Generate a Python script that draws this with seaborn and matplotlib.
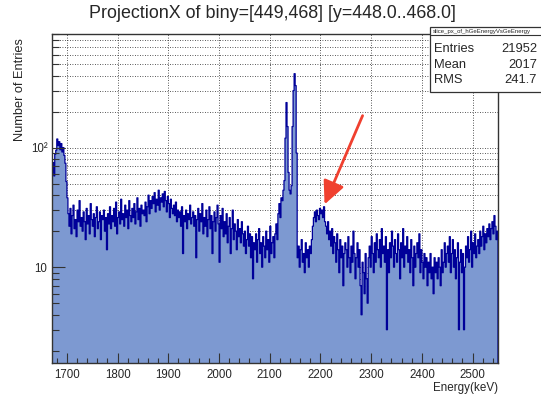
import numpy as np
import pandas as pd
import seaborn as sns
import matplotlib
matplotlib.use("Agg")
import matplotlib.pyplot as plt
from matplotlib.patches import Rectangle
from matplotlib.lines import Line2D
from matplotlib.ticker import MultipleLocator, LogLocator, FuncFormatter, NullFormatter

# ---- histogram content: Ge energy projection, 2 keV bins from 1670 keV ----
energy_start = 1670
energy_stop = 2550
bin_width = 2

entries = [
    62, 75, 58, 88, 95, 118, 104, 112, 96, 108,      # 1670
    92, 100, 86, 74, 52, 38, 28, 22, 31, 19,         # 1690
    27, 33, 21, 25, 18, 30, 24, 36, 22, 26,          # 1710
    20, 29, 24, 17, 31, 23, 27, 19, 34, 25,          # 1730
    22, 28, 18, 26, 32, 21, 24, 29, 17, 27,          # 1750
    25, 30, 20, 26, 14, 28, 23, 32, 21, 27,          # 1770
    24, 31, 22, 35, 19, 26, 29, 23, 37, 25,          # 1790
    28, 22, 33, 26, 30, 21, 36, 27, 24, 31,          # 1810
    26, 34, 23, 29, 38, 25, 31, 22, 33, 28,          # 1830
    30, 27, 35, 24, 32, 40, 28, 36, 31, 39,          # 1850
    34, 42, 29, 37, 33, 44, 30, 38, 35, 41,          # 1870
    32, 43, 36, 29, 39, 34, 26, 37, 31, 28,          # 1890
    33, 27, 35, 24, 30, 26, 29, 22, 32, 13,          # 1910
    27, 24, 30, 21, 28, 25, 33, 23, 26, 29,          # 1930
    22, 27, 12, 25, 31, 20, 28, 24, 34, 19,          # 1950
    26, 22, 30, 18, 25, 32, 21, 27, 13, 24,          # 1970
    29, 20, 26, 33, 23, 11, 27, 21, 31, 18,          # 1990
    24, 19, 28, 16, 22, 26, 13, 21, 30, 17,          # 2010
    23, 20, 14, 25, 18, 21, 16, 24, 19, 15,          # 2030
    20, 13, 17, 22, 15, 19, 12, 18, 8, 16,           # 2050
    14, 19, 11, 17, 21, 13, 16, 10, 18, 15,          # 2070
    12, 20, 14, 17, 11, 22, 13, 16, 18, 12,          # 2090
    19, 23, 17, 28, 34, 26, 38, 36, 44, 53,          # 2110
    120, 238, 150, 62, 44, 41, 48, 150, 300, 415,    # 2130
    330, 90, 12, 15, 10, 14, 17, 11, 13, 9,          # 2150
    16, 12, 14, 10, 15, 13, 17, 22, 26, 29,          # 2170
    24, 30, 27, 25, 31, 28, 30, 26, 32, 24,          # 2190
    22, 19, 24, 17, 20, 15, 21, 13, 18, 16,          # 2210
    11, 19, 14, 9, 17, 12, 15, 7, 13, 16,            # 2230
    14, 10, 18, 12, 9, 15, 11, 20, 13, 8,            # 2250
    12, 16, 10, 14, 7, 4, 11, 9, 6, 13,              # 2270
    8, 5, 12, 15, 10, 18, 13, 9, 16, 11,             # 2290
    19, 14, 12, 17, 10, 21, 13, 15, 11, 18,          # 2310
    3, 14, 9, 16, 12, 20, 15, 10, 17, 13,            # 2330
    11, 19, 14, 8, 16, 12, 21, 10, 15, 13,           # 2350
    18, 11, 14, 9, 17, 12, 7, 15, 10, 13,            # 2370
    16, 12, 19, 9, 14, 11, 8, 13, 10, 12,            # 2390
    7, 11, 9, 13, 8, 10, 6, 12, 9, 11,               # 2410
    8, 12, 10, 7, 14, 9, 11, 16, 10, 13,             # 2430
    15, 11, 18, 9, 13, 17, 10, 14, 8, 12,            # 2450
    16, 3, 11, 14, 9, 13, 3, 10, 15, 12,             # 2470
    18, 11, 14, 20, 10, 16, 13, 19, 12, 15,          # 2490
    17, 13, 20, 15, 18, 22, 14, 19, 16, 21,          # 2510
    18, 23, 17, 21, 24, 19, 27, 22, 17, 20,          # 2530
]

y_range = (1.58, 900)

stats_name = "slice_px_of_hGeEnergyVsGeEnergy"
stats_rows = [("Entries", "21952"), ("Mean", "2017"), ("RMS", "241.7")]

title = "ProjectionX of biny=[449,468] [y=448.0..468.0]"

# arrow marking the structure near 2.2 MeV (tail, head) in data coordinates
arrow_tail = (2283, 185)
arrow_head = (2208, 33.5)

# ---- style ----
sns.set_style("white")
plt.rcParams["font.family"] = ["Liberation Sans", "DejaVu Sans"]

FILL = "#7d99d1"
LINE = "#000099"
FRAME = "#333333"
GRID_KW = dict(color="#222222", linestyle=(0, (1, 2)), linewidth=0.6)

W, H = 541, 395
fig = plt.figure(figsize=(W / 100, H / 100), dpi=100)
fig.patch.set_facecolor("white")

L, R, T, B = 51.7, 498, 33.5, 363
pos = [L / W, 1 - B / H, (R - L) / W, (B - T) / H]

ax = fig.add_axes(pos)
edges = [float(e) for e in np.arange(energy_start, energy_stop + bin_width, bin_width)]
centers = [e + bin_width / 2 for e in edges[:-1]]
df = pd.DataFrame({"energy": centers, "entries": entries})

sns.histplot(data=df, x="energy", weights="entries", bins=edges,
             element="step", fill=True, color=FILL, alpha=1.0,
             edgecolor=LINE, linewidth=0.9, ax=ax, zorder=2)

ax.set_yscale("log")
ax.set_xlim(energy_start, energy_stop)
ax.set_ylim(*y_range)
ax.xaxis.set_major_locator(MultipleLocator(100))
ax.xaxis.set_minor_locator(MultipleLocator(20))
ax.yaxis.set_major_locator(LogLocator(base=10, subs=(1.0,)))
ax.yaxis.set_minor_locator(LogLocator(base=10, subs=np.arange(2, 10)))

# grid under the histogram
ax.set_axisbelow(True)
ax.grid(which="major", axis="x", **GRID_KW)
ax.grid(which="both", axis="y", **GRID_KW)
ax.tick_params(which="both", length=0, labelbottom=False, labelleft=False)
ax.set_xlabel("")
ax.set_ylabel("")
for s in ax.spines.values():
    s.set_visible(False)

# frame, ticks and labels drawn on top of the histogram
ax2 = fig.add_axes(pos, sharex=ax, sharey=ax)
ax2.patch.set_visible(False)
ax2.set_zorder(ax.get_zorder() + 1)
ax2.grid(False)
for s in ax2.spines.values():
    s.set_color(FRAME)
    s.set_linewidth(1.0)


def y_fmt(v, _):
    if abs(v - 10) < 1e-6:
        return "10"
    if abs(v - 100) < 1e-6:
        return "10\u00b2"
    return ""


ax2.yaxis.set_major_formatter(FuncFormatter(y_fmt))
ax2.yaxis.set_minor_formatter(NullFormatter())
ax2.tick_params(axis="x", which="major", direction="in", length=7, width=0.8,
                labelsize=8.3, pad=4, bottom=True, top=False, labelbottom=True,
                color=FRAME)
ax2.tick_params(axis="x", which="minor", direction="in", length=3.8, width=0.8,
                bottom=True, top=False, color=FRAME)
ax2.tick_params(axis="y", which="major", direction="in", length=9.5, width=0.8,
                labelsize=8.3, pad=3, left=True, right=False, labelleft=True,
                color=FRAME)
ax2.tick_params(axis="y", which="minor", direction="in", length=5, width=0.8,
                left=True, right=False, color=FRAME)
ax2.set_ylabel("Number of Entries", loc="top", fontsize=9.2)
ax2.yaxis.set_label_coords(-0.058, 0.986)
ax2.set_xlabel("Energy(keV)", loc="right", fontsize=8.4, labelpad=1)

ax2.annotate("", xy=arrow_head, xytext=arrow_tail, xycoords="data",
             arrowprops=dict(arrowstyle="-|>,head_length=0.7,head_width=0.33",
                             mutation_scale=20, color="#f0402f", lw=2.0,
                             shrinkA=0, shrinkB=0))

# title
fig.text(272 / W, 1 - 13.5 / H, title, ha="center", va="center", fontsize=12.9)

# statistics box
bx0, by0, by1 = 430, 27, 92
fig.add_artist(Rectangle((bx0 / W, 1 - by1 / H), (W + 5 - bx0) / W, (by1 - by0) / H,
                         transform=fig.transFigure, facecolor="white",
                         edgecolor=FRAME, linewidth=0.9, zorder=5))
fig.add_artist(Line2D([bx0 / W, 1.0], [1 - 35 / H, 1 - 35 / H],
                      transform=fig.transFigure, color=FRAME, linewidth=0.8,
                      zorder=6))
fig.text((bx0 + 3) / W, 1 - 31 / H, stats_name, fontsize=4.3, va="center",
         ha="left", zorder=7)
for i, (name, val) in enumerate(stats_rows):
    yy = 1 - (49 + 15.5 * i) / H
    fig.text((bx0 + 4) / W, yy, name, fontsize=9.3, va="center", ha="left", zorder=7)
    fig.text(537 / W, yy, val, fontsize=9.3, va="center", ha="right", zorder=7)

fig.savefig("out.png", dpi=100)
